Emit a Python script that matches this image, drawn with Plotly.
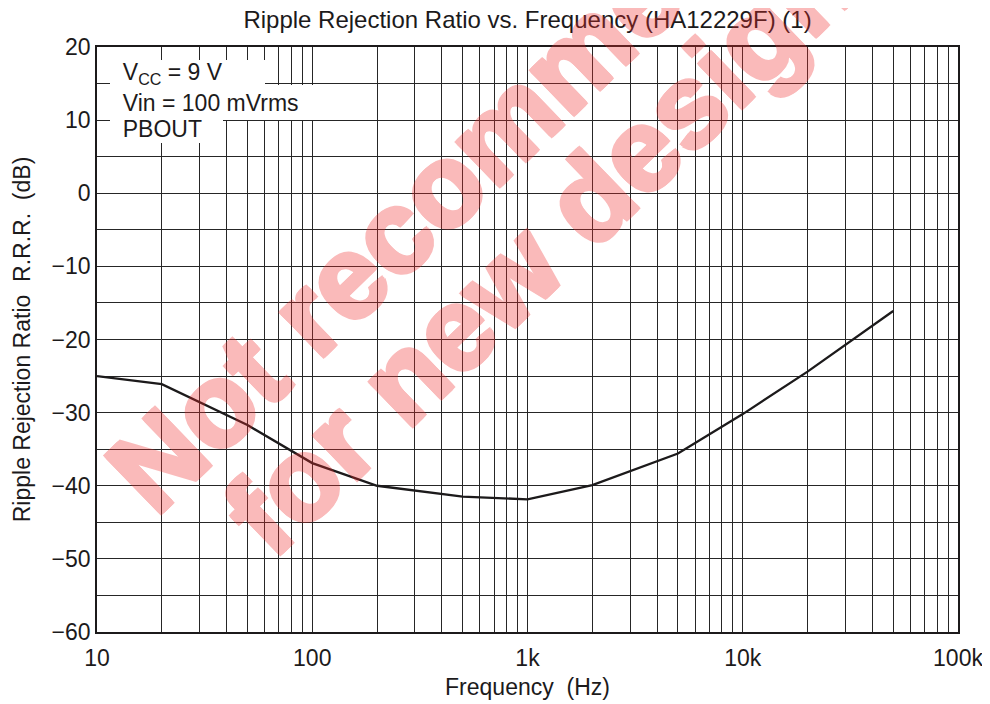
import plotly.graph_objects as go

# ---- data ----
freq_hz = [10, 20, 50, 100, 200, 500, 1000, 2000, 5000, 10000, 20000, 50000]
rrr_db = [-25.0, -26.1, -31.7, -36.9, -40.0, -41.5, -41.85, -39.9, -35.6, -30.2, -24.4, -16.1]

x_decades = [10, 100, 1000, 10000, 100000]
x_decade_labels = ["10", "100", "1k", "10k", "100k"]
y_grid_vals = list(range(-60, 25, 5))

note_lines = ["V<sub>CC</sub> = 9 V", "Vin = 100 mVrms", "PBOUT"]
watermark_lines = ["Not recommended", "for new designs"]

# ---- tick construction ----
x_tickvals, x_ticktext = [], []
for d, lab in zip(x_decades, x_decade_labels):
    x_tickvals.append(d)
    x_ticktext.append(lab)
    if d < x_decades[-1]:
        for m in range(2, 10):
            x_tickvals.append(d * m)
            x_ticktext.append("")
y_ticktext = [("\u2212" + str(abs(v)) if v < 0 else str(v)) if v % 10 == 0 else "" for v in y_grid_vals]

INK = "#1c1a1b"
GRID = "#262626"
FONT = "Liberation Sans, Arial, Helvetica, sans-serif"

fig = go.Figure()
fig.add_trace(go.Scatter(x=freq_hz, y=rrr_db, mode="lines",
                         line=dict(color=INK, width=2.3), hoverinfo="x+y"))

# the page body adds an 8 px offset; size the figure so the plot lands where the reference has it
OFF = 8
W, H = 990 - OFF, 704 - OFF
L, T = 97 - OFF, 47 - OFF
R = W - (958 - OFF)
B = H - (632 - OFF)
pw, ph = W - L - R, H - T - B


def px(xp):  # page pixel -> paper x
    return (xp - OFF - L) / pw


def py(yp):  # page pixel -> paper y
    return (H - B - (yp - OFF)) / ph


fig.update_layout(
    width=W, height=H,
    margin=dict(l=L, r=R, t=T, b=B, autoexpand=False),
    paper_bgcolor="white", plot_bgcolor="white",
    font=dict(family=FONT, size=23, color=INK),
    showlegend=False,
    title=dict(text="Ripple Rejection Ratio vs. Frequency (HA12229F) (1)",
               x=0.5, xref="paper", xanchor="center",
               y=1 - 12 / H, yref="container", yanchor="middle",
               font=dict(size=24, color=INK)),
)
fig.update_xaxes(
    type="log", range=[1, 5], automargin=False,
    tickvals=x_tickvals, ticktext=x_ticktext,
    showgrid=True, gridcolor=GRID, gridwidth=1,
    showline=True, mirror=True, linecolor=INK, linewidth=1.6,
    ticks="", zeroline=False, ticklabelstandoff=5,
    tickfont=dict(size=23),
    title=dict(text="Frequency\u00a0 (Hz)", standoff=8, font=dict(size=23)),
)
fig.update_yaxes(
    range=[-60, 20], automargin=False,
    tickvals=y_grid_vals, ticktext=y_ticktext,
    showgrid=True, gridcolor=GRID, gridwidth=1,
    showline=True, mirror=True, linecolor=INK, linewidth=1.6,
    ticks="", zeroline=False, ticklabelstandoff=0,
    tickfont=dict(size=23),
    title=dict(text="Ripple Rejection Ratio\u00a0 R.R.R.\u00a0 (dB)", standoff=15, font=dict(size=23)),
)

# condition note: each row has its own white background (page px: left, top, width, height, valign)
note_boxes = [(110, 60, 155, 28, "bottom"), (110, 84.5, 220, 35, "middle"), (110, 116, 113, 27, "top")]
for txt, (bx, by, bw, bh, va) in zip(note_lines, note_boxes):
    fig.add_annotation(
        text="\u00a0\u00a0" + txt, xref="paper", yref="paper",
        x=px(bx), y=py(by), xanchor="left", yanchor="top",
        width=bw, height=bh, align="left", valign=va,
        showarrow=False, bgcolor="white", borderpad=0, borderwidth=0,
        font=dict(size=23, color=INK),
    )

# watermark (page px centres); opaque glyphs thickened by a same-colour shadow, group opacity applied
WM = "rgb(240,45,45)"
sh = 2
wm_shadow = ", ".join(f"{dx}px {dy}px 0 {WM}" for dx, dy in
                      [(sh, 0), (-sh, 0), (0, sh), (0, -sh), (sh, sh), (-sh, -sh), (sh, -sh), (-sh, sh)])
wm_pos = [(494, 136), (562, 226)]
for txt, (cx, cy) in zip(watermark_lines, wm_pos):
    fig.add_annotation(
        text="<b>" + txt + "</b>", xref="paper", yref="paper",
        x=px(cx), y=py(cy), xanchor="center", yanchor="middle",
        textangle=-44, showarrow=False, opacity=0.32,
        font=dict(family="Liberation Sans, Arial, sans-serif", size=116,
                  color=WM, shadow=wm_shadow),
    )

fig.write_html("out.html")
